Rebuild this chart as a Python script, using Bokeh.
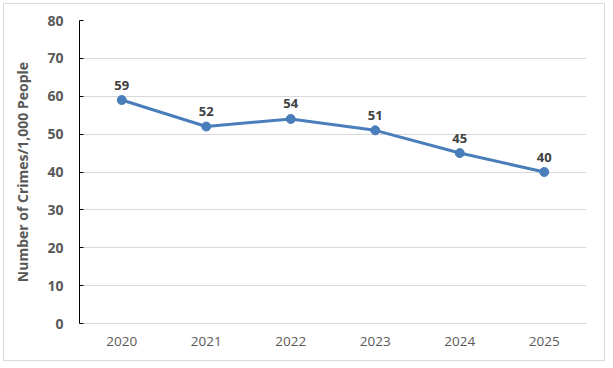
from bokeh.plotting import figure
from bokeh.models import Range1d, FactorRange, FixedTicker, ColumnDataSource
from bokeh.core.properties import value
from bokeh.embed import file_html
from bokeh.resources import INLINE

years = ["2020", "2021", "2022", "2023", "2024", "2025"]
crimes = [59, 52, 54, 51, 45, 40]
y_ticks = [0, 10, 20, 30, 40, 50, 60, 70, 80]

FONT = "Open Sans"
src = ColumnDataSource(dict(x=years, y=crimes, lab=[str(v) for v in crimes]))

p = figure(width=602, height=358, output_backend="svg", toolbar_location=None,
           x_range=FactorRange(*years, range_padding=0), y_range=Range1d(0, 80),
           min_border_left=75, min_border_right=20, min_border_top=16, min_border_bottom=39,
           styles={"margin-left": "3px", "margin-top": "3px", "border": "1px solid #d9d9d9",
                   "box-sizing": "border-box"})
p.outline_line_color = None
p.background_fill_color = "white"
p.border_fill_color = "white"

p.line("x", "y", source=src, line_color="#4a7ebb", line_width=3)
p.scatter("x", "y", source=src, size=9, fill_color="#4a7ebb", line_color="#4a7ebb")
p.text("x", "y", text="lab", source=src, text_align="center", text_baseline="middle",
       y_offset=-15, text_font=value(FONT), text_font_style="bold",
       text_font_size="13px", text_color="#404040")

p.xgrid.grid_line_color = None
p.ygrid.grid_line_color = "#d9d9d9"
p.ygrid.ticker = FixedTicker(ticks=y_ticks)

p.yaxis.ticker = FixedTicker(ticks=y_ticks)
p.yaxis.axis_line_color = "black"
p.yaxis.major_tick_line_color = "black"
p.yaxis.major_tick_in = 4
p.yaxis.major_tick_out = 0
p.yaxis.minor_tick_line_color = None
p.yaxis.major_label_text_font = FONT
p.yaxis.major_label_text_font_style = "bold"
p.yaxis.major_label_text_font_size = "14px"
p.yaxis.major_label_text_color = "#595959"
p.yaxis.major_label_standoff = 16
p.yaxis.axis_label = "Number of Crimes/1,000 People"
p.yaxis.axis_label_text_font = FONT
p.yaxis.axis_label_text_font_style = "bold"
p.yaxis.axis_label_text_font_size = "14px"
p.yaxis.axis_label_text_color = "#595959"
p.yaxis.axis_label_standoff = 12

p.xaxis.axis_line_color = "#d9d9d9"
p.xaxis.major_tick_line_color = None
p.xaxis.minor_tick_line_color = None
p.xaxis.major_label_text_font = FONT
p.xaxis.major_label_text_font_size = "13.5px"
p.xaxis.major_label_text_color = "#595959"
p.xaxis.major_label_standoff = 7

open("out.html", "w").write(file_html(p, INLINE))
